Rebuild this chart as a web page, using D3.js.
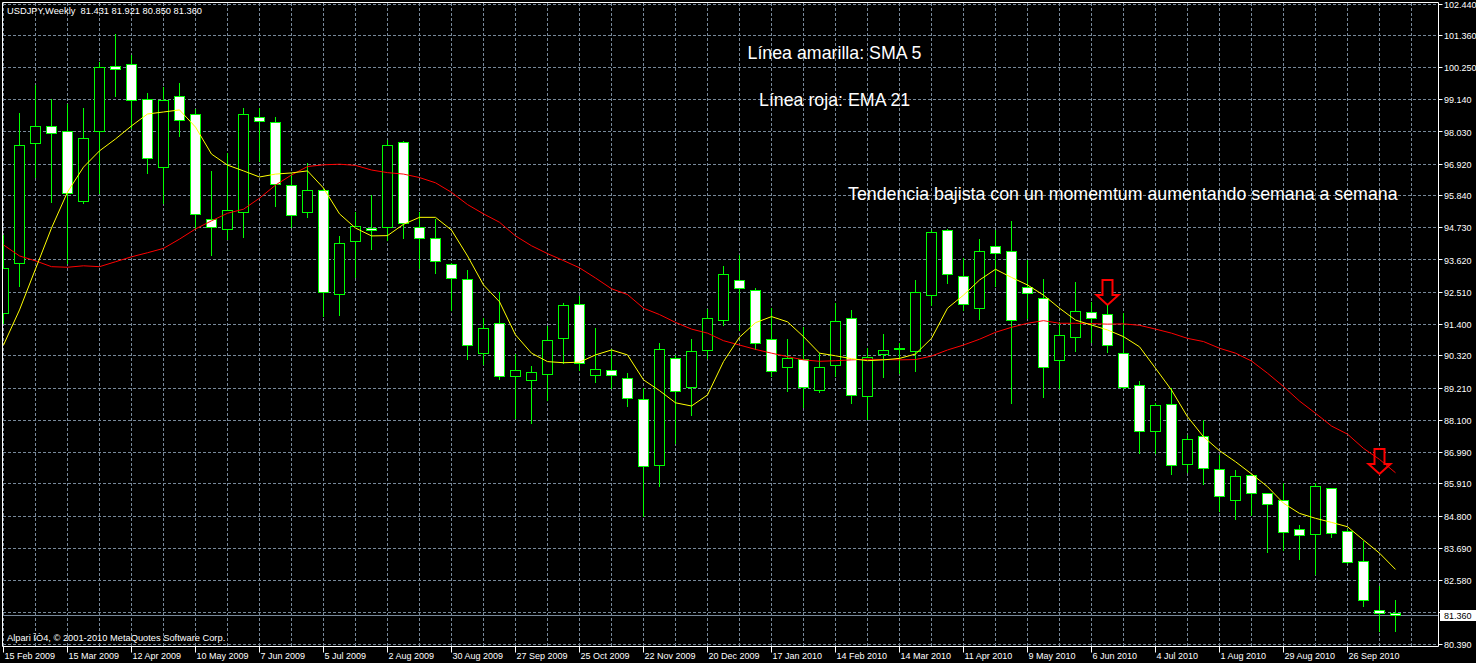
<!DOCTYPE html>
<html><head><meta charset="utf-8">
<script src="https://cdn.jsdelivr.net/npm/d3@7"></script>
<style>html,body{margin:0;padding:0;background:#000;overflow:hidden}svg{display:block}</style>
</head><body>
<script>
// ---- data (USDJPY weekly, bar 0 = week of 15 Feb 2009) ----
const opens  = [91.79,93.51,97.63,98.23,98.05,95.64,98.04,100.29,100.37,99.16,96.81,99.26,98.64,95.03,94.68,95.26,98.54,98.36,96.19,95.26,96.02,92.44,94.26,94.72,94.73,97.68,94.73,94.37,93.47,92.96,90.41,91.44,89.61,89.48,89.68,90.92,92.09,89.63,89.82,89.54,88.82,86.53,90.23,89.22,90.50,91.55,92.91,92.56,90.89,89.92,90.20,89.13,89.99,91.61,88.92,90.37,90.53,90.46,92.40,94.65,93.06,91.96,94.09,93.92,92.68,92.30,90.16,90.96,91.82,91.75,90.41,89.30,87.72,88.65,86.57,87.55,86.41,85.33,86.20,85.58,85.34,84.34,84.17,85.75,84.27,83.24,81.56,81.431];
const highs  = [94.48,98.67,99.65,99.17,98.98,98.87,100.43,101.42,100.68,99.36,99.59,99.72,98.82,96.69,97.30,98.87,98.87,98.56,96.61,96.95,96.10,94.45,95.27,95.86,97.75,97.72,95.27,95.04,93.52,93.28,91.61,92.51,90.37,89.97,91.35,92.14,92.38,91.29,90.54,89.72,89.20,90.77,90.35,90.90,91.92,93.41,93.79,92.65,91.96,90.90,91.30,90.41,92.15,91.90,90.58,91.07,90.77,92.93,94.65,94.70,93.68,94.33,94.65,94.97,93.62,92.96,91.48,92.85,92.18,92.07,91.78,89.45,88.68,89.20,87.59,88.11,86.90,86.39,86.25,85.60,85.93,84.49,85.93,85.78,84.34,83.95,82.39,81.921];
const lows   = [91.45,92.72,96.49,95.63,93.51,95.60,95.94,99.27,98.16,96.61,95.59,97.90,94.71,93.79,94.35,94.42,97.03,95.49,94.77,95.11,91.69,91.71,93.04,93.99,94.31,94.38,93.33,93.18,91.90,90.20,90.03,89.51,88.17,87.99,88.80,90.06,89.83,89.43,89.20,88.59,84.80,85.84,87.33,88.28,90.23,91.38,91.21,90.54,89.62,89.12,88.55,89.07,89.62,88.70,88.13,89.60,89.74,89.81,92.07,92.82,91.90,91.58,92.72,88.70,91.62,88.91,89.20,90.50,90.81,90.44,89.20,86.96,86.96,86.25,86.31,85.90,84.98,84.71,84.83,83.57,83.63,83.32,82.79,84.09,83.19,81.70,80.85,80.850];
const closes = [93.31,97.55,98.23,97.99,95.92,97.81,100.26,100.19,99.13,97.12,99.10,98.43,95.19,94.73,95.31,98.64,98.40,96.23,95.16,96.02,92.51,94.20,94.78,94.63,97.55,94.88,94.37,93.58,92.99,90.69,91.27,89.62,89.80,89.75,90.85,92.04,90.06,89.85,89.65,88.84,86.52,90.54,89.10,90.47,91.61,93.13,92.65,90.75,89.77,90.23,89.22,89.92,91.49,88.96,90.27,90.51,90.56,92.51,94.57,93.13,92.10,93.92,93.85,91.55,92.45,89.92,91.03,91.85,91.61,90.69,89.22,87.72,88.60,86.53,87.44,86.44,85.47,86.17,85.58,85.20,84.24,84.12,85.83,84.20,83.21,81.90,81.45,81.360];
// yellow line (SMA 5)
const sma5  = [90.69,91.90,93.31,94.72,95.96,96.82,97.38,97.79,98.24,98.65,98.72,98.79,98.20,97.27,96.89,96.69,96.48,96.58,96.62,96.69,96.10,95.21,94.72,94.45,94.46,94.85,95.09,95.09,94.65,93.76,92.76,92.18,91.04,90.41,90.12,90.08,90.10,90.35,90.52,90.35,89.49,89.12,88.70,88.59,88.97,90.12,90.96,91.46,91.67,91.49,90.98,90.41,90.32,90.22,90.15,90.18,90.23,90.38,90.92,91.96,92.41,92.93,93.30,93.02,92.76,92.41,91.96,91.55,91.38,91.21,90.98,90.63,89.89,89.14,88.22,87.53,87.05,86.67,86.25,85.81,85.24,84.89,84.72,84.58,84.43,83.97,83.52,82.96];
// red line (EMA 21)
const ema21 = [94.14,93.76,93.59,93.39,93.37,93.42,93.39,93.56,93.73,93.87,94.02,94.34,94.69,94.97,95.23,95.37,95.75,96.20,96.55,96.84,96.90,96.92,96.88,96.72,96.63,96.58,96.46,96.28,95.95,95.53,95.21,94.92,94.45,94.11,93.84,93.60,93.35,93.00,92.63,92.43,91.96,91.74,91.47,91.24,91.10,90.84,90.69,90.54,90.41,90.29,90.18,90.13,90.15,90.18,90.20,90.19,90.18,90.19,90.31,90.52,90.69,90.89,91.13,91.30,91.44,91.53,91.44,91.44,91.43,91.41,91.42,91.37,91.24,91.10,90.92,90.81,90.58,90.41,90.14,89.72,89.26,88.76,88.34,87.90,87.62,87.13,86.75,86.29];
const priceTicks = [102.440,101.360,100.250,99.140,98.030,96.920,95.840,94.730,93.620,92.510,91.400,90.320,89.210,88.100,86.990,85.910,84.800,83.690,82.580,81.470,80.390];
const dateLabels = ["15 Feb 2009","15 Mar 2009","12 Apr 2009","10 May 2009","7 Jun 2009","5 Jul 2009","2 Aug 2009","30 Aug 2009","27 Sep 2009","25 Oct 2009","22 Nov 2009","20 Dec 2009","17 Jan 2010","14 Feb 2010","14 Mar 2010","11 Apr 2010","9 May 2010","6 Jun 2010","4 Jul 2010","1 Aug 2010","29 Aug 2010","26 Sep 2010"];
const dateLabelBars = [0,4,8,12,16,20,24,28,32,36,40,44,48,52,56,60,64,68,72,76,80,84];
const arrowBars = [69, 86];
const arrowPrices = [92.07, 86.25];
const lastPrice = 81.360;
const title = "USDJPY,Weekly  81.431 81.921 80.850 81.360";
const copyright = "Alpari ÎÒ4, © 2001-2010 MetaQuotes Software Corp.";
const notes = ["Línea amarilla: SMA 5", "Línea roja: EMA 21", "Tendencia bajista con un momemtum aumentando semana a semana"];

// ---- layout ----
const W = 1476, H = 663;
const L = 2.5, R = 1438.5, T = 2.5, B = 646.5;
const font = "'Liberation Sans', Arial, sans-serif";
const GRID = "#778899", GREEN = "#00ff00";

const svg = d3.select("body").append("svg").attr("width", W).attr("height", H)
  .style("background", "#000");

const x = d3.scaleLinear().domain([0, 87]).range([3.5, 3.5 + 16 * 87]);
const y = d3.scaleLinear().domain([80.39, 102.44]).range([644, 4]);
const snap = v => Math.floor(v) + 0.5;

svg.append("defs").append("clipPath").attr("id", "plot")
  .append("rect").attr("x", 3).attr("y", 3).attr("width", R - 3.5).attr("height", B - 3.5);

const plot = svg.append("g").attr("clip-path", "url(#plot)");

// grid
const gridBars = d3.range(0, 89, 2);
plot.selectAll("line.vg").data(gridBars).join("line")
  .attr("x1", d => x(d)).attr("x2", d => x(d)).attr("y1", 3).attr("y2", B)
  .attr("stroke", GRID).attr("stroke-width", 1).attr("stroke-dasharray", "3,2");
plot.selectAll("line.hg").data(priceTicks).join("line")
  .attr("x1", 3).attr("x2", R).attr("y1", d => snap(y(d))).attr("y2", d => snap(y(d)))
  .attr("stroke", GRID).attr("stroke-width", 1).attr("stroke-dasharray", "3,2");

// last price line
plot.append("line").attr("x1", 3).attr("x2", R)
  .attr("y1", snap(y(lastPrice))).attr("y2", snap(y(lastPrice)))
  .attr("stroke", GRID).attr("stroke-width", 1);

// arrows
arrowBars.forEach((b, i) => {
  const cx = x(b), ty = y(arrowPrices[i]);
  const p = d3.path();
  p.moveTo(cx - 5, ty - 25); p.lineTo(cx + 5, ty - 25); p.lineTo(cx + 5, ty - 10);
  p.lineTo(cx + 11, ty - 10); p.lineTo(cx, ty); p.lineTo(cx - 11, ty - 10);
  p.lineTo(cx - 5, ty - 10); p.closePath();
  plot.append("path").attr("d", p.toString()).attr("fill", "#000")
    .attr("stroke", "#ff0000").attr("stroke-width", 2).attr("stroke-linejoin", "miter");
});

// candles
const bars = d3.range(opens.length);
const cg = plot.append("g");
cg.selectAll("line.wick").data(bars).join("line")
  .attr("x1", d => x(d)).attr("x2", d => x(d))
  .attr("y1", d => Math.round(y(highs[d]))).attr("y2", d => Math.round(y(lows[d])) + 1)
  .attr("stroke", GREEN).attr("stroke-width", 1);
cg.selectAll("rect.body").data(bars).join("rect")
  .attr("x", d => x(d) - 5).attr("width", 10)
  .attr("y", d => snap(y(Math.max(opens[d], closes[d]))))
  .attr("height", d => Math.max(1, snap(y(Math.min(opens[d], closes[d]))) - snap(y(Math.max(opens[d], closes[d])))))
  .attr("fill", d => closes[d] >= opens[d] ? "#000" : "#fff")
  .attr("stroke", GREEN).attr("stroke-width", 1);

// moving averages
const lineGen = arr => d3.line().x((d, i) => x(i)).y(d => y(d))(arr);
plot.append("path").attr("d", lineGen(ema21)).attr("fill", "none").attr("stroke", "#ff0000").attr("stroke-width", 1);
plot.append("path").attr("d", lineGen(sma5)).attr("fill", "none").attr("stroke", "#ffff00").attr("stroke-width", 1);

// annotations
const ann = svg.append("g").attr("fill", "#fff").attr("font-family", font).attr("font-size", "17.8px");
ann.append("text").attr("x", 747.5).attr("y", 59).text(notes[0]);
ann.append("text").attr("x", 759).attr("y", 106).text(notes[1]);
ann.append("text").attr("x", 848).attr("y", 199.5).text(notes[2]);

// title and copyright
svg.append("text").attr("x", 7).attr("y", 14).attr("fill", "#fff").attr("font-family", font)
  .attr("font-size", "9.3px").style("white-space", "pre").text(title);
svg.append("text").attr("x", 7).attr("y", 641).attr("fill", "#fff").attr("font-family", font)
  .attr("font-size", "9.3px").text(copyright);

// frame
svg.append("path").attr("d", `M${L},${B}V${T}H${R}V${B}Z`).attr("fill", "none").attr("stroke", "#fff").attr("stroke-width", 1);

// price axis
const pa = svg.append("g");
pa.selectAll("line").data(priceTicks).join("line")
  .attr("x1", R).attr("x2", R + 4).attr("y1", d => snap(y(d))).attr("y2", d => snap(y(d)))
  .attr("stroke", "#fff");
pa.selectAll("text").data(priceTicks).join("text")
  .attr("x", 1444).attr("y", d => y(d) + 3.5)
  .attr("fill", "#fff").attr("font-family", font).attr("font-size", "9px")
  .text(d => d.toFixed(3));
// last price box
svg.append("rect").attr("x", 1440).attr("y", snap(y(lastPrice)) - 5.5).attr("width", 36).attr("height", 11).attr("fill", "#fff");
svg.append("text").attr("x", 1444).attr("y", y(lastPrice) + 3.5).attr("fill", "#000")
  .attr("font-family", font).attr("font-size", "9px").text(lastPrice.toFixed(3));

// time axis
const ta = svg.append("g");
ta.selectAll("line").data(dateLabelBars).join("line")
  .attr("x1", d => x(d)).attr("x2", d => x(d)).attr("y1", B).attr("y2", B + 6)
  .attr("stroke", "#fff");
ta.selectAll("text").data(dateLabels).join("text")
  .attr("x", (d, i) => x(dateLabelBars[i]) + 1).attr("y", 659)
  .attr("fill", "#fff").attr("font-family", font).attr("font-size", "9px")
  .text(d => d);
</script>
</body></html>
